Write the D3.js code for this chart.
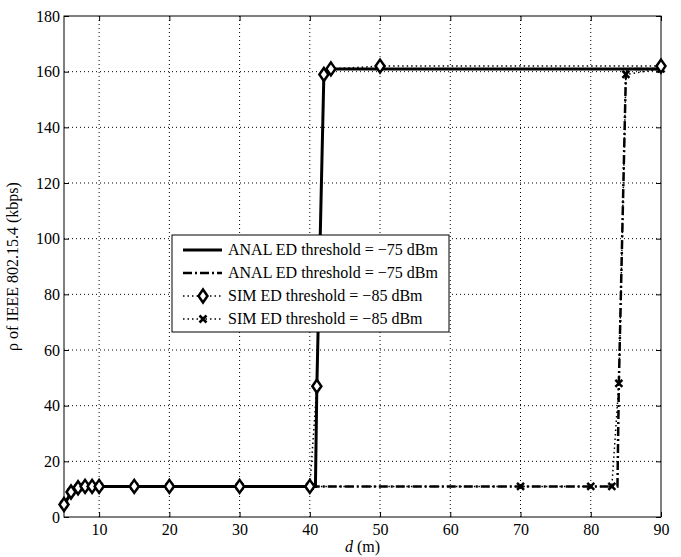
<!DOCTYPE html>
<html>
<head>
<meta charset="utf-8">
<script src="https://cdn.jsdelivr.net/npm/d3@7"></script>
<style>
  body { margin: 0; background: #fff; }
  svg { font-family: "Liberation Serif", "Times New Roman", serif; }
</style>
</head>
<body>
<svg width="681" height="557"></svg>
<script>
// analytic curves (solid = ANAL -75, dash-dot = ANAL second curve)
const analSolidX = [5, 6, 7, 8, 9, 10, 15, 20, 30, 40, 40.8, 41, 42, 43, 50, 90];
const analSolidY = [4.5, 8.5, 10.5, 11, 11, 11, 11, 11, 11, 11, 11, 47, 159, 161, 161, 161];
const analDashX = [5, 6, 7, 8, 9, 10, 20, 40, 70, 80, 83.8, 84, 85, 85.3, 90];
const analDashY = [4.5, 8.5, 10.5, 11, 11, 11, 11, 11, 11, 11, 11, 48, 159, 161, 161];
// simulation points
const simDiamondX = [5, 6, 7, 8, 9, 10, 15, 20, 30, 40, 41, 42, 43, 50, 90];
const simDiamondY = [4.5, 9, 10.5, 11, 11, 11, 11, 11, 11, 11, 47, 159, 161, 162, 162];
const simCrossX = [5, 6, 7, 8, 9, 10, 15, 20, 30, 40, 70, 80, 83, 84, 85, 90];
const simCrossY = [4.5, 9, 10.5, 11, 11, 11, 11, 11, 11, 11, 11, 11, 11, 48, 159, 161];

const xTicks = [10, 20, 30, 40, 50, 60, 70, 80, 90];
const yTicks = [0, 20, 40, 60, 80, 100, 120, 140, 160, 180];
const legendLabels = [
  "ANAL ED threshold = \u221275 dBm",
  "ANAL ED threshold = \u221275 dBm",
  "SIM ED threshold = \u221285 dBm",
  "SIM ED threshold = \u221285 dBm"
];

const svg = d3.select("svg");
const pL = 64, pR = 661, pT = 16, pB = 517;

const x = d3.scaleLinear().domain([5, 90]).range([pL, pR]);
const y = d3.scaleLinear().domain([0, 180]).range([pB, pT]);

// grid
const grid = svg.append("g");
grid.selectAll(".gx").data(xTicks.filter(d => d < 90)).enter().append("line")
  .attr("x1", d => x(d)).attr("x2", d => x(d))
  .attr("y1", pT).attr("y2", pB)
  .attr("stroke", "#000").attr("stroke-width", 1)
  .attr("stroke-dasharray", "1,3");
grid.selectAll(".gy").data(yTicks.filter(d => d > 0 && d < 180)).enter().append("line")
  .attr("x1", pL).attr("x2", pR)
  .attr("y1", d => y(d)).attr("y2", d => y(d))
  .attr("stroke", "#000").attr("stroke-width", 1)
  .attr("stroke-dasharray", "1,3");

// axes
const xAxis = d3.axisBottom(x).tickValues(xTicks).tickSize(-5).tickPadding(7);
const yAxis = d3.axisLeft(y).tickValues(yTicks).tickSize(-5).tickPadding(4);
const gx = svg.append("g").attr("transform", `translate(0,${pB})`).call(xAxis);
const gy = svg.append("g").attr("transform", `translate(${pL},0)`).call(yAxis);
const gxt = svg.append("g").attr("transform", `translate(0,${pT})`)
  .call(d3.axisTop(x).tickValues(xTicks).tickSize(-5).tickFormat(""));
const gyr = svg.append("g").attr("transform", `translate(${pR},0)`)
  .call(d3.axisRight(y).tickValues(yTicks).tickSize(-5).tickFormat(""));
[gx, gy, gxt, gyr].forEach(g => {
  g.attr("font-family", "Liberation Serif, serif").attr("font-size", 16);
  g.select(".domain").remove();
  g.selectAll("line").attr("stroke", "#000");
  g.selectAll("text").attr("fill", "#000");
});
svg.append("rect").attr("x", pL).attr("y", pT)
  .attr("width", pR - pL).attr("height", pB - pT)
  .attr("fill", "none").attr("stroke", "#000").attr("stroke-width", 1);

const line = d3.line().x(d => x(d[0])).y(d => y(d[1]));
const zip = (a, b) => a.map((v, i) => [v, b[i]]);

// dotted sim lines
svg.append("path").datum(zip(simCrossX, simCrossY)).attr("d", line)
  .attr("fill", "none").attr("stroke", "#000").attr("stroke-width", 1.5)
  .attr("stroke-dasharray", "1.5,3");
svg.append("path").datum(zip(simDiamondX, simDiamondY)).attr("d", line)
  .attr("fill", "none").attr("stroke", "#000").attr("stroke-width", 1.5)
  .attr("stroke-dasharray", "1.5,3");
// analytic lines
svg.append("path").datum(zip(analDashX, analDashY)).attr("d", line)
  .attr("fill", "none").attr("stroke", "#000").attr("stroke-width", 2.5)
  .attr("stroke-dasharray", "9,3,2,3");
svg.append("path").datum(zip(analSolidX, analSolidY)).attr("d", line)
  .attr("fill", "none").attr("stroke", "#000").attr("stroke-width", 3);

// markers
const diamond = "M0,-6.5L4.5,0L0,6.5L-4.5,0Z";
const cross = "M-3.5,-3.5L3.5,3.5M-3.5,3.5L3.5,-3.5";
svg.selectAll(".cr").data(zip(simCrossX, simCrossY)).enter().append("path")
  .attr("d", cross).attr("transform", d => `translate(${x(d[0])},${y(d[1])})`)
  .attr("stroke", "#000").attr("stroke-width", 2.5).attr("fill", "none");
svg.selectAll(".dm").data(zip(simDiamondX, simDiamondY)).enter().append("path")
  .attr("d", diamond).attr("transform", d => `translate(${x(d[0])},${y(d[1])})`)
  .attr("stroke", "#000").attr("stroke-width", 2.5).attr("fill", "#fff");

// legend
const lg = svg.append("g").attr("transform", "translate(172,235)");
lg.append("rect").attr("width", 277).attr("height", 97)
  .attr("fill", "#fff").attr("stroke", "#000").attr("stroke-width", 1);
const styles = [
  { w: 3, dash: null, mark: null },
  { w: 2.5, dash: "9,3,2,3", mark: null },
  { w: 1.5, dash: "1.5,3", mark: "d" },
  { w: 1.5, dash: "1.5,3", mark: "x" }
];
legendLabels.forEach((t, i) => {
  const ry = 15 + i * 23;
  const s = styles[i];
  lg.append("line").attr("x1", 11).attr("x2", 50).attr("y1", ry).attr("y2", ry)
    .attr("stroke", "#000").attr("stroke-width", s.w)
    .attr("stroke-dasharray", s.dash);
  if (s.mark === "d") {
    lg.append("path").attr("d", diamond).attr("transform", `translate(31,${ry})`)
      .attr("stroke", "#000").attr("stroke-width", 2.5).attr("fill", "#fff");
  } else if (s.mark === "x") {
    lg.append("path").attr("d", cross).attr("transform", `translate(31,${ry})`)
      .attr("stroke", "#000").attr("stroke-width", 2.5);
  }
  lg.append("text").attr("x", 56).attr("y", ry + 5).attr("font-size", 16).text(t);
});

// axis labels
svg.append("text").attr("x", (pL + pR) / 2).attr("y", 552)
  .attr("text-anchor", "middle").attr("font-size", 16)
  .html('<tspan font-style="italic">d</tspan> (m)');
svg.append("text").attr("transform", `translate(18,${(pT + pB) / 2}) rotate(-90)`)
  .attr("text-anchor", "middle").attr("font-size", 16)
  .text("\u03c1 of IEEE 802.15.4 (kbps)");
</script>
</body>
</html>
